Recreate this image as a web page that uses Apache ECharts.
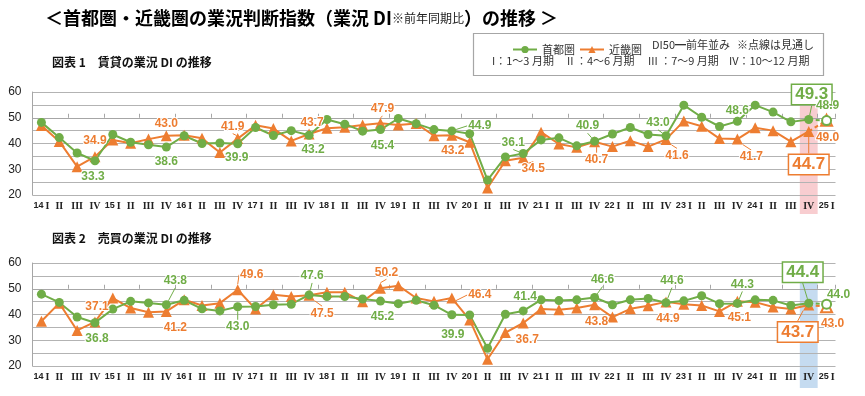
<!DOCTYPE html>
<html><head><meta charset="utf-8">
<script src="https://cdn.jsdelivr.net/npm/echarts@6/dist/echarts.min.js"></script>
<style>html,body{margin:0;padding:0;background:#fff}#c{width:865px;height:396px}</style>
</head><body><div id="c"></div>
<script>
// ---------- data ----------
const tickLabels = [
 '14 I','II','III','IV','15 I','II','III','IV','16 I','II','III','IV',
 '17 I','II','III','IV','18 I','II','III','IV','19 I','II','III','IV',
 '20 I','II','III','IV','21 I','II','III','IV','22 I','II','III','IV',
 '23 I','II','III','IV','24 I','II','III','IV','25 I'];
const categories = tickLabels.map((t, i) => 'q' + i);

// 図表1 賃貸
const rentTokyo = [48.2,42.3,36.3,33.3, 43.5,40.5,39.5,38.6, 43.0,40.0,40.2,39.9,
 46.2,43.1,45.0,43.2, 49.3,47.5,44.8,45.4, 49.7,47.7,45.4,44.9, 43.8,25.8,34.8,36.1,
 41.4,42.2,39.1,40.9, 43.7,46.2,43.5,43.0, 54.9,50.2,46.6,48.6, 54.9,52.2,48.4,49.3, 48.9];
const rentKinki = [47.0,40.8,31.0,34.9, 41.4,40.1,41.7,43.0, 43.2,42.0,36.5,41.9,
 47.1,45.8,41.0,43.7, 45.9,46.3,47.2,47.9, 47.2,47.8,43.0,43.2, 40.5,22.7,33.3,34.5,
 44.4,39.8,38.5,40.7, 38.8,41.1,38.8,41.6, 48.7,46.7,41.9,41.7, 46.1,45.0,40.7,44.7, 49.0];
// 図表2 売買
const saleTokyo = [47.9,44.7,39.0,36.8, 42.1,45.1,44.5,43.8, 45.5,42.2,41.4,43.0,
 43.1,43.8,44.0,47.6, 47.0,47.0,46.0,45.2, 44.2,45.5,43.6,39.9, 39.8,26.9,40.1,41.4,
 45.7,45.4,45.7,46.6, 43.8,45.7,46.2,44.6, 45.3,47.3,44.2,44.3, 45.7,45.5,43.5,44.4, 44.0];
const saleKinki = [37.4,44.4,33.8,37.1, 46.4,42.5,40.9,41.2, 45.7,43.5,44.4,49.6,
 42.1,47.7,47.0,47.5, 48.6,48.6,45.0,50.2, 51.2,46.4,45.1,46.4, 37.9,22.6,33.0,36.7,
 42.1,41.8,42.5,43.8, 39.0,42.2,43.4,44.9, 44.0,43.5,41.2,45.1, 44.8,42.9,42.1,43.7, 43.0];

const forecastIndex = 44;   // 25 I (見通し)
const boxIndex = 43;        // 24 IV highlighted
const yTicks = [20, 30, 40, 50, 60];

// ---------- styles ----------
const GREEN = '#70ad47', ORANGE = '#ed7d31';
const FONT = '"Noto Sans CJK JP", "Noto Sans", sans-serif';
const NUMFONT = '"Liberation Sans", Arial, sans-serif';
const offsets = {
  rentTokyo: {3:[-2,16],7:[0,15],11:[-1,14],15:[4,14],19:[2,16],23:[28,-5],27:[-10,-11],31:[-7,-15],35:[-8,-13],39:[0,-11],43:[3,-25],44:[1,-15]},
  rentKinki: {3:[0,-16],7:[0,-12],11:[-5,-12],15:[3,-11],19:[2,-14],23:[1,15],27:[10,11],31:[2,18],35:[11,16],39:[14,18],43:[0,33],44:[1,17]},
  saleTokyo: {3:[2,16],7:[9,-24],11:[0,20],15:[3,-19],19:[2,16],23:[1,20],27:[2,-14],31:[8,-18],35:[6,-22],39:[5,-19],43:[-6,-31],44:[12,-10]},
  saleKinki: {3:[2,-15],7:[9,16],11:[14,-15],15:[13,18],19:[6,-16],23:[28,-3],27:[4,17],31:[2,17],35:[2,17],39:[2,16],43:[-11,27],44:[6,17]}
};
const leaders = {
  rentTokyo: [23,27,31,35,39,43], rentKinki: [11,19,27,31,35,39,43],
  saleTokyo: [7,11,15,31,35,39,43], saleKinki: [11,15,19,23,43]
};

function makeSeries(key, values, name, color, symbol, size, gridIdx) {
  const off = offsets[key], lead = leaders[key];
  const labelBase = {show:false, position:'inside', color: color, fontSize: 12, fontWeight:'bold',
    fontFamily: NUMFONT, textBorderColor:'#fff', textBorderWidth: 2,
    formatter: p => Number(p.value).toFixed(1)};
  const itemFor = (v, i) => {
    const it = {value: v};
    if (off[i]) {
      it.label = {show:true};
      if (i === boxIndex) it.label = {show:true, fontSize:17, borderColor: color, borderWidth:1.5,
        backgroundColor:'#fff', padding:[2,3,0,3], textBorderWidth:0};
      if (lead.includes(i)) it.labelLine = {show:true};
    }
    return it;
  };
  const common = {
    type:'line', xAxisIndex: gridIdx*2, yAxisIndex: gridIdx, color: color,
    itemStyle:{color: color}, label: labelBase,
    labelLine:{show:false, lineStyle:{color: color, width:1}},
    labelLayout: p => { const o = off[p.dataIndex]; return o ? {dx:o[0], dy:o[1]} : {}; },
    animation:false
  };
  const main = Object.assign({}, common, {
    name: name, symbol: symbol, symbolSize: size, lineStyle:{color: color, width:2},
    data: values.map((v,i) => i < forecastIndex ? itemFor(v,i) : null)
  });
  const fc = Object.assign({}, common, {
    name: name + '見通し', symbol: 'empty' + symbol[0].toUpperCase() + symbol.slice(1), symbolSize: size,
    lineStyle:{color: color, width:2, type:[4,3]},
    data: values.map((v,i) => i === forecastIndex-1 ? {value:v, symbol:'none'} : (i === forecastIndex ? itemFor(v,i) : null))
  });
  return [main, fc];
}

const gridTop = [92, 263], gridH = 103;
function axesFor(g) {
  return [
    {type:'category', gridIndex:g, data: categories, boundaryGap:true,
     axisLine:{show:false}, axisTick:{show:false},
     axisLabel:{interval:0, margin:6, color:'#222',
       formatter:(v,i)=>{const p=tickLabels[i].split(' ');return p.length>1?`{y|${p[0]}}{r|${p[1]}}`:`{r|${p[0]}}`;},
       rich:{y:{fontSize:9, fontWeight:'bold', fontFamily:NUMFONT, color:'#222', padding:[0,2,0,0]},
             r:{fontSize:10, fontWeight:'bold', fontFamily:'"Liberation Serif", serif', color:'#222'}}}},
    {type:'category', gridIndex:g, data: categories, boundaryGap:true, position:'bottom',
     offset: -(50-20)/(60-20)*gridH,
     axisLine:{show:true, lineStyle:{color:'#a6a6a6', width:1}},
     axisTick:{show:true, inside:true, length:4, lineStyle:{color:'#a6a6a6'}},
     axisLabel:{show:false}}
  ];
}
function yAxisFor(g) {
  return {type:'value', gridIndex:g, min:20, max:60, interval:5,
    axisLine:{show:true, lineStyle:{color:'#a6a6a6'}}, axisTick:{show:false},
    splitLine:{lineStyle:{color:'#b3b3b3', width:1}},
    axisLabel:{margin:11, color:'#222', fontSize:12, fontFamily:NUMFONT,
      formatter: v => yTicks.includes(v) ? String(v) : ''}};
}

const chart = echarts.init(document.getElementById('c'), null, {renderer:'canvas'});
const option = {
  animation:false,
  textStyle:{fontFamily: FONT},
  grid: gridTop.map(t => ({left:32.5, right:29.5, top:t, height:gridH})),
  xAxis: [...axesFor(0), ...axesFor(1)],
  yAxis: [yAxisFor(0), yAxisFor(1)],
  legend: {left:507, top:39, itemWidth:24, itemHeight:9, itemGap:4, selectedMode:false,
    data:['首都圏','近畿圏'], textStyle:{fontSize:11, color:'#333', fontFamily:FONT}},
  series: [
    ...makeSeries('rentKinki', rentKinki, '近畿圏', ORANGE, 'triangle', 11, 0),
    ...makeSeries('rentTokyo', rentTokyo, '首都圏', GREEN, 'circle', 9, 0),
    ...makeSeries('saleKinki', saleKinki, '近畿圏', ORANGE, 'triangle', 11, 1),
    ...makeSeries('saleTokyo', saleTokyo, '首都圏', GREEN, 'circle', 9, 1)
  ]
};
chart.setOption(option);

// highlight bands from the axis scale
function band(g, fill, topPad, botPad) {
  const a = chart.convertToPixel({gridIndex:g}, [boxIndex, 60]);
  const b = chart.convertToPixel({gridIndex:g}, [boxIndex+1, 20]);
  const w = b[0] - a[0];
  return {type:'rect', z:-10, silent:true,
    shape:{x:a[0]-w/2, y:a[1]-topPad, width:w, height:(b[1]-a[1])+topPad+botPad},
    style:{fill:fill}};
}
const txt = (x, y, text, extra) => ({type:'text', z:5, x:x, y:y,
  style: Object.assign({text:text, fontFamily:FONT, fontSize:11, fill:'#333', verticalAlign:'middle'}, extra||{})});

chart.setOption({graphic: [
  band(0, '#f8cdd0', 8, 19),
  band(1, '#c5dbf0', 1, 22),
  {type:'text', x:45, y:18, z:5, style:{
    text:'{b|＜首都圏・近畿圏の業況判断指数（業況 DI}{s|※前年同期比}{b|）の推移 ＞}',
    verticalAlign:'middle', fontFamily:FONT,
    rich:{b:{fontSize:18, fontWeight:'bold', fill:'#000', fontFamily:FONT},
          s:{fontSize:12, fill:'#222', fontFamily:FONT}}}},
  txt(52, 62, '図表 1　賃貸の業況 DI の推移', {fontSize:12, fontWeight:'bold', fill:'#111'}),
  txt(52, 238, '図表 2　売買の業況 DI の推移', {fontSize:12, fontWeight:'bold', fill:'#111'}),
  {type:'rect', z:1, shape:{x:473.5, y:33.5, width:350, height:42}, style:{fill:'none', stroke:'#a6a6a6', lineWidth:1.2}},
  txt(652, 45, 'DI50━前年並み'),
  txt(737, 45, '※点線は見通し'),
  txt(492, 61, 'I：1～3 月期'),
  txt(567, 61, 'II ：4～6 月期'),
  txt(648, 61, 'III ：7～9 月期'),
  txt(729, 61, 'IV：10～12 月期')
]});
</script></body></html>
